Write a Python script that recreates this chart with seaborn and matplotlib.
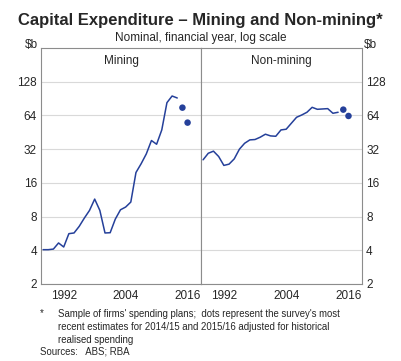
import numpy as np
import pandas as pd
import matplotlib
matplotlib.use('Agg')
import matplotlib.pyplot as plt
import seaborn as sns
from matplotlib.ticker import FixedLocator, NullFormatter

years = list(range(1988, 2015))
mining = [4.05, 4.05, 4.1, 4.65, 4.28, 5.63, 5.71, 6.54, 7.76, 9.08,
          11.46, 9.08, 5.71, 5.74, 7.6, 9.2, 9.73, 10.78, 19.8, 23.7,
          29.0, 38.2, 35.4, 47.5, 83.2, 95.4, 91.6]
non_mining = [25.7, 29.4, 30.7, 27.5, 22.9, 23.5, 26.2, 32.0, 36.1, 38.7,
              39.0, 40.9, 43.5, 42.0, 41.7, 47.5, 48.2, 54.5, 61.6, 64.6,
              68.3, 75.6, 72.6, 73.1, 73.6, 66.9, 68.3]
dot_years = [2015, 2016]
mining_dots = [75.1, 55.2]
non_mining_dots = [72.1, 63.3]

panels = ['Mining', 'Non-mining']
yticks = [2, 4, 8, 16, 32, 64, 128]
xlabels = [1992, 2004, 2016]

line_df = pd.DataFrame({
    'year': years * 2,
    'value': mining + non_mining,
    'panel': [panels[0]] * len(years) + [panels[1]] * len(years),
})
dot_df = pd.DataFrame({
    'year': dot_years * 2,
    'value': mining_dots + non_mining_dots,
    'panel': [panels[0]] * 2 + [panels[1]] * 2,
})

sns.set_style('white')
plt.rcParams['font.family'] = ['Liberation Sans', 'DejaVu Sans']

blue = '#25409a'
grey = '#8c8c8c'

fig = plt.figure(figsize=(4.01, 3.61), dpi=100)
bottom = 77 / 361
height = 236 / 361
ax1 = fig.add_axes([41 / 401, bottom, 160 / 401, height])
ax2 = fig.add_axes([201 / 401, bottom, 161 / 401, height])

for ax, name in zip([ax1, ax2], panels):
    sns.lineplot(data=line_df[line_df['panel'] == name], x='year', y='value',
                 color=blue, linewidth=1.1, ax=ax)
    sns.scatterplot(data=dot_df[dot_df['panel'] == name], x='year', y='value',
                    color=blue, s=22, edgecolor='none', ax=ax, zorder=3)
    ax.set_yscale('log', base=2)
    ax.set_ylim(2, 256)
    ax.set_xlim(1987.6, 2018.6)
    ax.yaxis.set_major_locator(FixedLocator(yticks))
    ax.yaxis.set_minor_locator(FixedLocator([]))
    ax.set_yticklabels([str(t) for t in yticks])
    ax.xaxis.set_major_locator(FixedLocator(xlabels))
    ax.xaxis.set_minor_locator(FixedLocator(np.arange(1988, 2019)))
    ax.xaxis.set_minor_formatter(NullFormatter())
    ax.set_xticklabels([str(x) for x in xlabels])
    ax.grid(axis='y', color='#d9d9d9', linewidth=0.8)
    ax.set_axisbelow(True)
    ax.tick_params(axis='x', which='both', direction='in', length=3,
                   color=grey, width=0.6, labelsize=8.5, pad=4)
    ax.tick_params(axis='y', length=0, labelsize=8.5, pad=3)
    ax.set_xlabel('')
    ax.set_ylabel('')
    for sp in ax.spines.values():
        sp.set_color(grey)
        sp.set_linewidth(0.8)
    ax.text(0.5, 0.945, name, transform=ax.transAxes, ha='center',
            va='center', fontsize=8.5)

ax2.yaxis.tick_right()
ax2.tick_params(axis='y', labelright=True, labelleft=False)
ax1.tick_params(axis='y', labelleft=True)

fig.text(0.5, 1 - 21 / 361, 'Capital Expenditure \u2013 Mining and Non-mining*',
         ha='center', va='center', fontsize=12, fontweight='bold')
fig.text(0.5, 1 - 38 / 361, 'Nominal, financial year, log scale',
         ha='center', va='center', fontsize=8.5)
fig.text(38 / 401, 1 - 45 / 361, '$b', ha='right', va='center', fontsize=8.5)
fig.text(364 / 401, 1 - 45 / 361, '$b', ha='left', va='center', fontsize=8.5)

fig.text(40 / 401, 1 - 313 / 361, '*', ha='left', va='center', fontsize=7)
fig.text(58 / 401, 1 - 309 / 361,
         "Sample of firms' spending plans;  dots represent the survey's most\n"
         "recent estimates for 2014/15 and 2015/16 adjusted for historical\n"
         "realised spending",
         ha='left', va='top', fontsize=6.9, linespacing=1.35)
fig.text(40 / 401, 1 - 352 / 361, 'Sources:   ABS; RBA', ha='left',
         va='center', fontsize=6.9)

fig.savefig('out.png', dpi=100)
